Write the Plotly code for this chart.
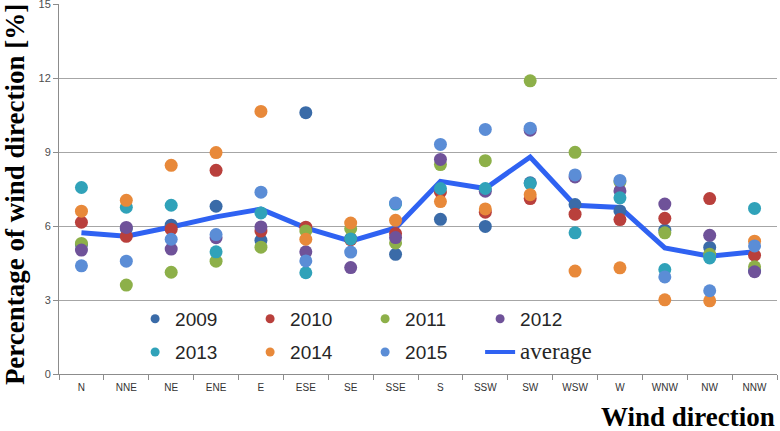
import plotly.graph_objects as go

directions = ["N", "NNE", "NE", "ENE", "E", "ESE", "SE", "SSE", "S", "SSW", "SW", "WSW", "W", "WNW", "NW", "NNW"]

y2009 = [5.25, 5.90, 6.04, 6.81, 5.43, 10.61, 5.50, 4.86, 6.28, 5.99, 7.76, 6.88, 6.62, 5.84, 5.14, 4.20]
y2010 = [6.16, 5.59, 5.88, 8.27, 5.80, 5.96, 5.45, 5.70, 7.39, 6.57, 7.12, 6.49, 6.27, 6.32, 7.12, 4.82]
y2011 = [5.30, 3.61, 4.13, 4.58, 5.15, 5.81, 5.90, 5.32, 8.50, 8.66, 11.90, 9.00, 7.80, 5.73, 4.86, 4.35]
y2012 = [5.03, 5.95, 5.07, 5.53, 5.97, 4.96, 4.32, 5.54, 8.71, 7.42, 9.90, 8.00, 7.43, 6.90, 5.63, 4.15]
y2013 = [7.57, 6.77, 6.85, 4.96, 6.54, 4.11, 5.48, 6.90, 7.53, 7.53, 7.73, 5.73, 7.15, 4.24, 4.71, 6.72]
y2014 = [6.61, 7.05, 8.47, 8.99, 10.66, 5.47, 6.13, 6.24, 7.00, 6.70, 7.28, 4.18, 4.31, 3.01, 2.97, 5.39]
y2015 = [4.39, 4.58, 5.47, 5.66, 7.38, 4.59, 4.95, 6.94, 9.32, 9.93, 9.98, 8.08, 7.86, 3.94, 3.38, 5.20]
average = [5.73, 5.59, 5.97, 6.38, 6.69, 5.93, 5.39, 5.93, 7.82, 7.53, 8.81, 6.85, 6.76, 5.12, 4.78, 4.96]

years = ["2009", "2010", "2011", "2012", "2013", "2014", "2015"]
series = [y2009, y2010, y2011, y2012, y2013, y2014, y2015]
colors = ["#3A6BA8", "#B9403C", "#8DB049", "#6F5299", "#30A2B9", "#E8893A", "#5B8DD6"]
avg_color = "#2F62F2"
y_ticks = [0, 3, 6, 9, 12, 15]

fig = go.Figure()

# average line drawn underneath the points
fig.add_trace(go.Scatter(x=directions, y=average, mode="lines",
                         line=dict(color=avg_color, width=5), showlegend=False,
                         name="average"))

for yr, vals, col in zip(years, series, colors):
    fig.add_trace(go.Scatter(x=directions, y=vals, mode="markers",
                             marker=dict(color=col, size=13, line=dict(width=0)),
                             showlegend=False, name=yr))

# legend entries (two rows)
legend_rows = [("legend", [0, 1, 2, 3]), ("legend2", [4, 5, 6])]
for lg, idxs in legend_rows:
    for i in idxs:
        fig.add_trace(go.Scatter(x=[None], y=[None], mode="markers",
                                 marker=dict(color=colors[i], size=9),
                                 name=years[i], legend=lg))
fig.add_trace(go.Scatter(x=[None], y=[None], mode="lines",
                         line=dict(color=avg_color, width=4),
                         name="<span style='font-family:Liberation Serif;font-size:23px'>average</span>",
                         legend="legend2"))

legend_common = dict(orientation="h", entrywidth=70, entrywidthmode="pixels",
                     bgcolor="rgba(0,0,0,0)", xanchor="left", yanchor="middle",
                     font=dict(family="Liberation Sans, Arial, sans-serif", size=19, color="#262626"),
                     itemwidth=30, tracegroupgap=0)

fig.update_layout(
    width=780, height=431,
    margin=dict(l=59, r=3, t=4, b=57),
    paper_bgcolor="white", plot_bgcolor="white",
    showlegend=True,
    legend=dict(x=0.106, y=0.149, **legend_common),
    legend2=dict(x=0.106, y=0.059, **legend_common),
    xaxis=dict(type="category", categoryorder="array", categoryarray=directions,
               range=[-0.5, 15.5], showgrid=False, zeroline=False, automargin=False,
               showline=True, linecolor="#8C8C8C", linewidth=1,
               ticks="outside", tickson="boundaries", ticklen=5, tickcolor="#8C8C8C",
               ticklabelstandoff=4,
               tickfont=dict(family="Liberation Sans Narrow, Arial Narrow, Liberation Sans, sans-serif",
                             size=10, color="#333333")),
    yaxis=dict(range=[0, 15.02], tickvals=y_ticks, showgrid=True, gridcolor="#A6A6A6", gridwidth=1,
               zeroline=False, showline=True, linecolor="#8C8C8C", linewidth=1, automargin=False,
               ticks="outside", ticklen=5, tickcolor="#8C8C8C", ticklabeloverflow="allow",
               tickfont=dict(family="Liberation Sans, Arial, sans-serif", size=11, color="#4D4D4D")),
    annotations=[
        dict(text="<b>Percentage of wind direction [%]</b>", xref="paper", yref="paper",
             x=-0.061, y=0.484, xanchor="center", yanchor="middle", textangle=-90,
             showarrow=False, font=dict(family="Liberation Serif, Times New Roman, serif", size=27, color="black")),
        dict(text="<b>Wind direction</b>", xref="paper", yref="paper",
             x=1.0, y=-0.116, xanchor="right", yanchor="middle",
             showarrow=False, font=dict(family="Liberation Serif, Times New Roman, serif", size=27, color="black")),
    ],
)

fig.write_html("out.html", config={"displayModeBar": False},
               post_script="document.body.style.margin='0';document.body.style.overflow='hidden';")
